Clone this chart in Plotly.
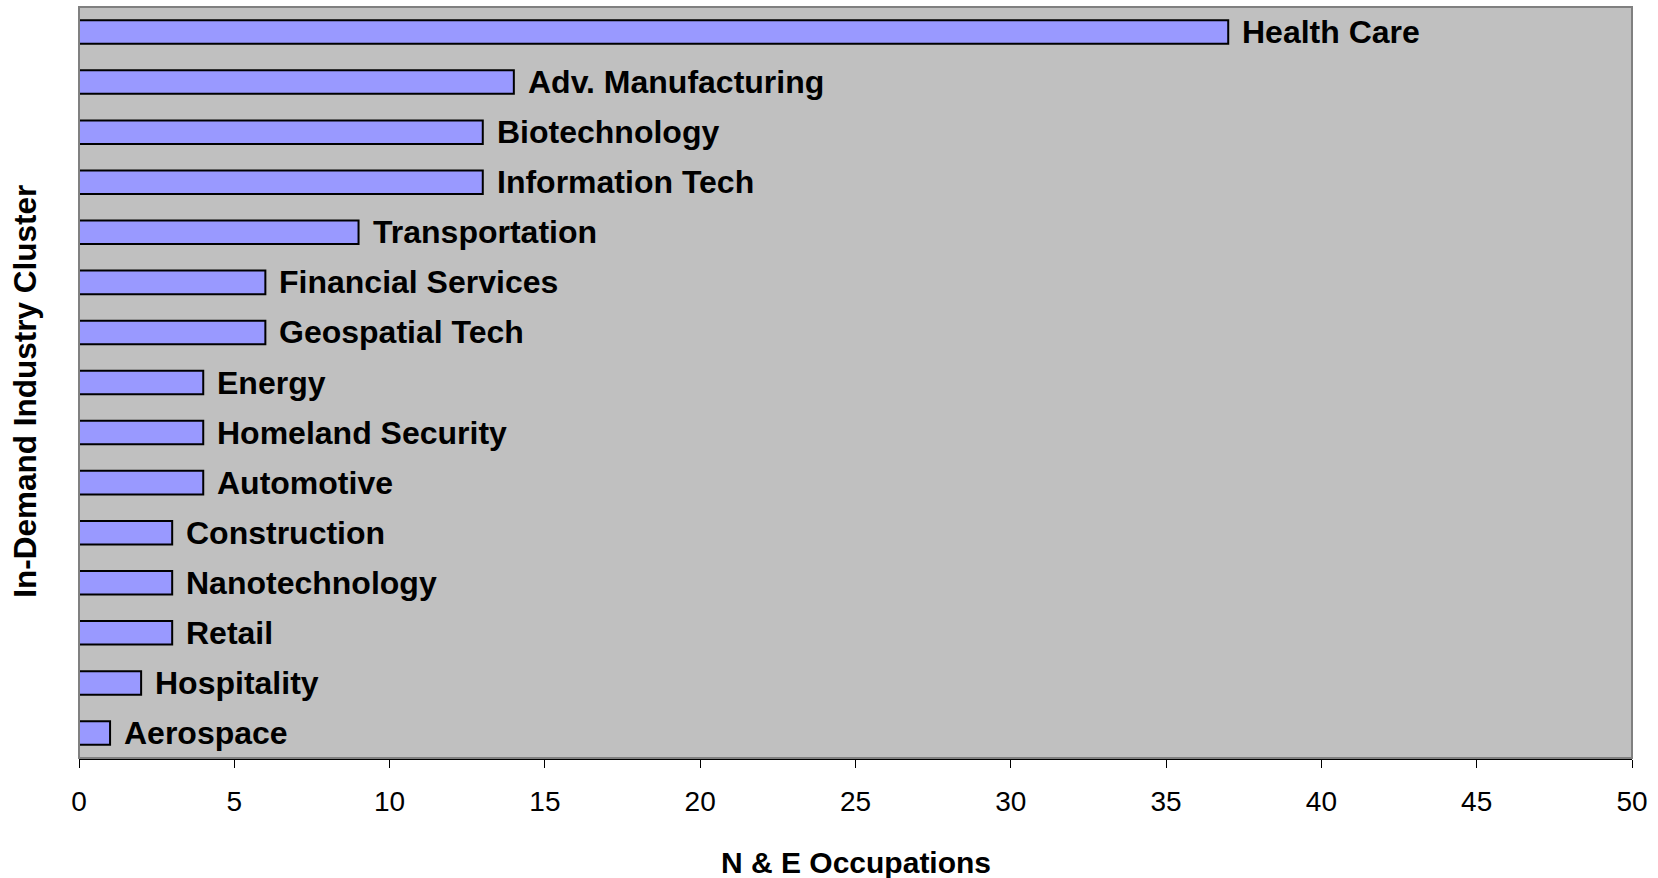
import plotly.graph_objects as go

categories = ["Health Care", "Adv. Manufacturing", "Biotechnology", "Information Tech",
              "Transportation", "Financial Services", "Geospatial Tech", "Energy",
              "Homeland Security", "Automotive", "Construction", "Nanotechnology",
              "Retail", "Hospitality", "Aerospace"]
values = [37, 14, 13, 13, 9, 6, 6, 4, 4, 4, 3, 3, 3, 2, 1]
x_ticks = [0, 5, 10, 15, 20, 25, 30, 35, 40, 45, 50]

FONT = "Liberation Sans, Arial, sans-serif"

fig = go.Figure()
fig.add_trace(go.Bar(
    x=values, y=categories, orientation="h",
    marker=dict(color="#9999FF", line=dict(color="#000000", width=2)),
    width=0.47, hoverinfo="x+y",
))

for c, v in zip(categories, values):
    fig.add_annotation(x=v, y=c, xref="x", yref="y", text="<b>%s</b>" % c,
                       showarrow=False, xanchor="left", yanchor="middle", xshift=12,
                       font=dict(family=FONT, size=32, color="#000000"))

fig.add_annotation(xref="paper", yref="paper", x=0.5, y=-0.1385, text="<b>N & E Occupations</b>",
                   showarrow=False, xanchor="center", yanchor="middle",
                   font=dict(family=FONT, size=30, color="#000000"))
fig.add_annotation(xref="paper", yref="paper", x=-0.0348, y=0.489,
                   text="<b>In-Demand Industry Cluster</b>", textangle=-90,
                   showarrow=False, xanchor="center", yanchor="middle",
                   font=dict(family=FONT, size=31.5, color="#000000"))

fig.add_shape(type="rect", xref="paper", yref="paper", x0=0, x1=1, y0=0, y1=1,
              line=dict(color="#808080", width=2), fillcolor="rgba(0,0,0,0)", layer="above")

fig.update_layout(
    width=1658, height=878,
    margin=dict(l=79, r=26, t=7, b=120),
    paper_bgcolor="#FFFFFF", plot_bgcolor="#C0C0C0",
    showlegend=False,
    font=dict(family=FONT, color="#000000"),
    xaxis=dict(range=[0, 50], tickvals=x_ticks, ticks="outside", ticklen=8, tickwidth=1,
               tickcolor="#000000", showgrid=False, zeroline=False,
               showline=True, linecolor="#000000", linewidth=2,
               tickfont=dict(family=FONT, size=28, color="#000000"),
               ticklabelstandoff=9),
    yaxis=dict(categoryorder="array", categoryarray=categories[::-1],
               showticklabels=False, ticks="", showgrid=False, zeroline=False,
               showline=False, range=[-0.5, len(categories) - 0.5]),
)

fig.write_html("out.html", config={"displayModeBar": False},
               post_script="document.body.style.margin='0';document.body.style.overflow='hidden';")
